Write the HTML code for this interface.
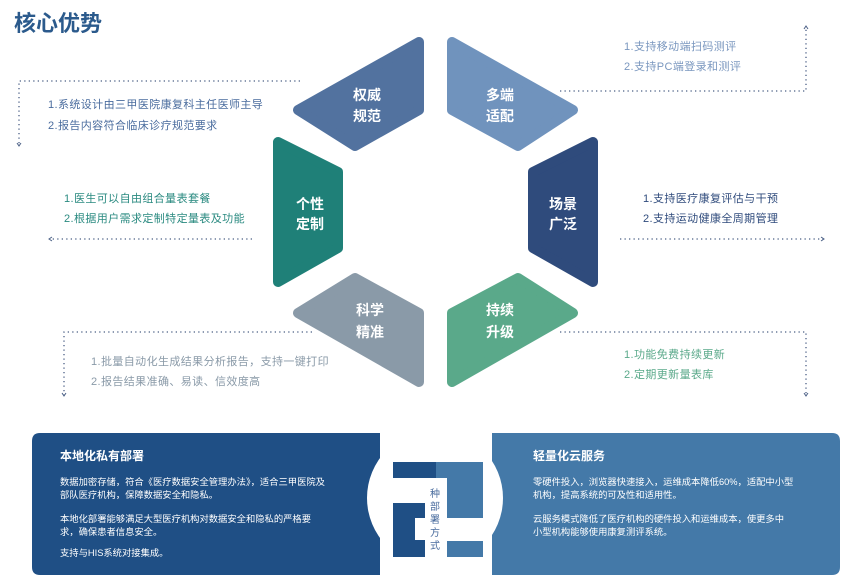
<!DOCTYPE html>
<html><head><meta charset="utf-8"><style>
html,body{margin:0;padding:0;background:#fff;}
body{width:849px;height:582px;overflow:hidden;position:relative;font-family:"Liberation Sans","Noto Sans CJK SC",sans-serif;}
svg{position:absolute;left:0;top:0;}
text{font-family:"Liberation Sans","Noto Sans CJK SC",sans-serif;}
</style></head><body>
<svg width="849" height="582" viewBox="0 0 849 582">
<text x="14" y="31" font-size="22" font-weight="bold" fill="#2b5a8c">核心优势</text>

<!-- dotted connectors -->
<g stroke="#4a5f85" stroke-width="1.3" stroke-dasharray="1.3 3.2" fill="none">
<path d="M300 81 H19 V145"/>
<path d="M252 239 H50"/>
<path d="M560 91 H806 V27"/>
<path d="M620 239 H823"/>
<path d="M312 332 H64 V395"/>
<path d="M560 332 H806 V395"/>
</g>
<g stroke="#4a5f85" stroke-width="1" fill="none">
<path d="M17 143 L19 146 L21 143"/>
<path d="M52 237 L49 239 L52 241"/>
<path d="M804 29 L806 26 L808 29"/>
<path d="M821 237 L824 239 L821 241"/>
<path d="M62 393 L64 396 L66 393"/>
<path d="M804 393 L806 396 L808 393"/>
</g>

<!-- hexagon segments -->
<g stroke-width="10" stroke-linejoin="round">
<polygon points="298,110 419,42 419,110 355,146" fill="#52729f" stroke="#52729f"/>
<polygon points="452,42 452,110 518,146 573,110" fill="#7093bd" stroke="#7093bd"/>
<polygon points="593,142 593,282 533,248 533,172" fill="#2f4b7c" stroke="#2f4b7c"/>
<polygon points="278,142 278,282 338,248 338,172" fill="#1f8078" stroke="#1f8078"/>
<polygon points="298,313 355,278 419,313 419,382" fill="#8a9aa8" stroke="#8a9aa8"/>
<polygon points="452,313 518,278 573,313 452,382" fill="#5aa98a" stroke="#5aa98a"/>
</g>
<g font-size="14" font-weight="bold" fill="#fff" text-anchor="middle">
<text x="367" y="100">权威</text><text x="367" y="121">规范</text>
<text x="500" y="100">多端</text><text x="500" y="121">适配</text>
<text x="310" y="209">个性</text><text x="310" y="229">定制</text>
<text x="563" y="209">场景</text><text x="563" y="229">广泛</text>
<text x="370" y="315">科学</text><text x="370" y="337">精准</text>
<text x="500" y="315">持续</text><text x="500" y="337">升级</text>
</g>

<g font-size="11" letter-spacing="0.4">
<text x="48" y="108" fill="#4a6c9e">1.系统设计由三甲医院康复科主任医师主导</text>
<text x="48" y="129" fill="#4a6c9e">2.报告内容符合临床诊疗规范要求</text>
<text x="64" y="202" fill="#2a8a80">1.医生可以自由组合量表套餐</text>
<text x="64" y="222" fill="#2a8a80">2.根据用户需求定制特定量表及功能</text>
<text x="624" y="50" fill="#7a97bf">1.支持移动端扫码测评</text>
<text x="624" y="70" fill="#7a97bf">2.支持PC端登录和测评</text>
<text x="643" y="202" fill="#2f4b7c">1.支持医疗康复评估与干预</text>
<text x="643" y="222" fill="#2f4b7c">2.支持运动健康全周期管理</text>
<text x="91" y="365" fill="#8a9aa8">1.批量自动化生成结果分析报告，支持一键打印</text>
<text x="91" y="385" fill="#8a9aa8">2.报告结果准确、易读、信效度高</text>
<text x="624" y="358" fill="#5aa98a">1.功能免费持续更新</text>
<text x="624" y="378" fill="#5aa98a">2.定期更新量表库</text>
</g>

<!-- bottom panels -->
<path d="M40 433 H380 V575 H40 Q32 575 32 567 V441 Q32 433 40 433 Z" fill="#1f4f85"/>
<path d="M492 433 H832 Q840 433 840 441 V567 Q840 575 832 575 H492 Z" fill="#4479a8"/>
<circle cx="435" cy="498" r="68" fill="#fff"/>
<!-- logo -->
<rect x="393" y="462" width="43" height="16" fill="#1f4f85"/>
<path d="M436 462 H483 V518 H447 V478 H436 Z" fill="#4479a8"/>
<rect x="447" y="541" width="36" height="16" fill="#4479a8"/>
<path d="M393 503 H425 V518 H415 V540 H425 V557 H393 Z" fill="#1f4f85"/>
<g font-size="10" fill="#4a6c9e" text-anchor="middle">
<text x="435" y="497">种</text><text x="435" y="510">部</text><text x="435" y="523">署</text><text x="435" y="536">方</text><text x="435" y="549">式</text>
</g>

<g fill="#fff">
<text x="60" y="460" font-size="12" font-weight="bold">本地化私有部署</text>
<g font-size="9.3">
<text x="60" y="485">数据加密存储，符合《医疗数据安全管理办法》，适合三甲医院及</text>
<text x="60" y="498">部队医疗机构，保障数据安全和隐私。</text>
<text x="60" y="522">本地化部署能够满足大型医疗机构对数据安全和隐私的严格要</text>
<text x="60" y="535">求，确保患者信息安全。</text>
<text x="60" y="556">支持与HIS系统对接集成。</text>
</g>
<text x="533" y="460" font-size="12" font-weight="bold">轻量化云服务</text>
<g font-size="9.3">
<text x="533" y="485">零硬件投入，浏览器快速接入，运维成本降低60%，适配中小型</text>
<text x="533" y="498">机构，提高系统的可及性和适用性。</text>
<text x="533" y="522">云服务模式降低了医疗机构的硬件投入和运维成本，使更多中</text>
<text x="533" y="535">小型机构能够使用康复测评系统。</text>
</g>
</g>
</svg>
</body></html>
